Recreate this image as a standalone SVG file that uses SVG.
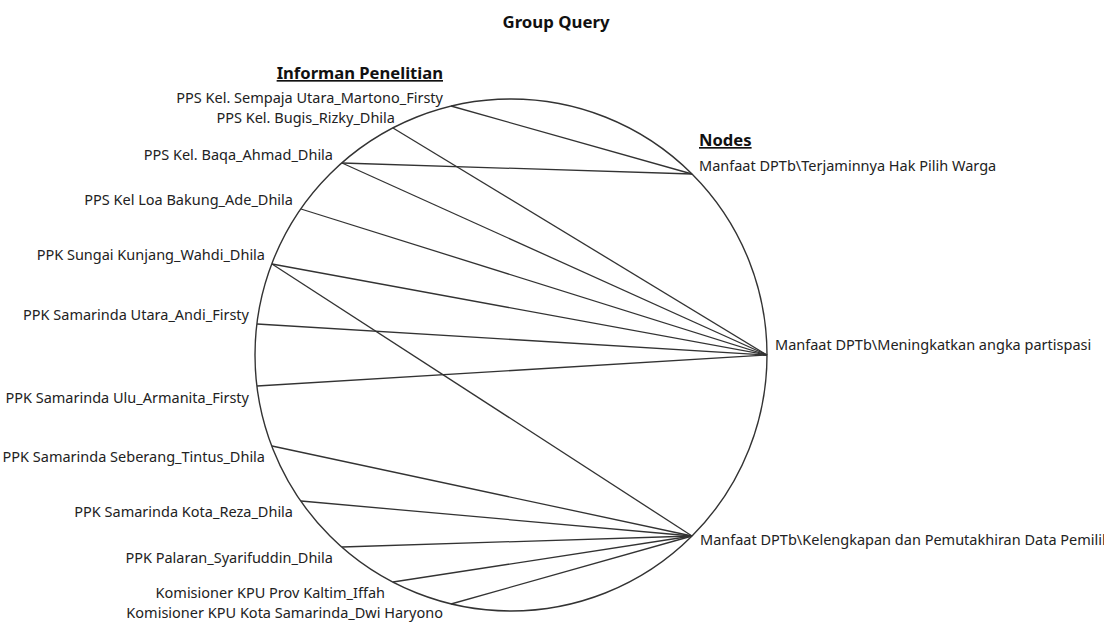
<svg xmlns="http://www.w3.org/2000/svg" width="1104" height="623" viewBox="0 0 1104 623">
<style>
.lbl{font-family:"Noto Sans","Open Sans","Liberation Sans",sans-serif;font-size:14.5px;fill:#222}
.hd{font-family:"Noto Sans","Open Sans","Liberation Sans",sans-serif;font-size:16.6px;font-weight:bold;fill:#111;text-decoration:underline}
.ttl{font-family:"Noto Sans","Open Sans","Liberation Sans",sans-serif;font-size:16.8px;font-weight:bold;fill:#111}
.e{stroke:#333;stroke-width:1.3;fill:none}
.ring{stroke:#333;stroke-width:1.4;fill:none}
</style>
<rect width="1104" height="623" fill="#fff"/>
<text class="ttl" x="556" y="28" text-anchor="middle">Group Query</text>
<text class="hd" x="443" y="79" text-anchor="end">Informan Penelitian</text>
<text class="hd" x="699" y="146">Nodes</text>
<circle class="ring" cx="511" cy="355" r="256"/>
<g id="connectors">
<line class="e" x1="451" y1="106" x2="692" y2="174"/>
<line class="e" x1="393" y1="128" x2="767" y2="355"/>
<line class="e" x1="342" y1="163" x2="692" y2="174"/>
<line class="e" x1="342" y1="163" x2="767" y2="355"/>
<line class="e" x1="301" y1="209" x2="767" y2="355"/>
<line class="e" x1="272" y1="264" x2="767" y2="355"/>
<line class="e" x1="272" y1="264" x2="692" y2="536"/>
<line class="e" x1="257" y1="324" x2="767" y2="355"/>
<line class="e" x1="257" y1="386" x2="767" y2="355"/>
<line class="e" x1="272" y1="446" x2="692" y2="536"/>
<line class="e" x1="301" y1="501" x2="692" y2="536"/>
<line class="e" x1="342" y1="547" x2="692" y2="536"/>
<line class="e" x1="393" y1="582" x2="692" y2="536"/>
<line class="e" x1="451" y1="604" x2="692" y2="536"/>
</g>
<g id="n1"><text class="lbl" x="443" y="103" text-anchor="end">PPS Kel. Sempaja Utara_Martono_Firsty</text></g>
<g id="n2"><text class="lbl" x="395" y="123" text-anchor="end">PPS Kel. Bugis_Rizky_Dhila</text></g>
<g id="n3"><text class="lbl" x="333" y="160" text-anchor="end">PPS Kel. Baqa_Ahmad_Dhila</text></g>
<g id="n4"><text class="lbl" x="293" y="205" text-anchor="end">PPS Kel Loa Bakung_Ade_Dhila</text></g>
<g id="n5"><text class="lbl" x="265" y="260" text-anchor="end">PPK Sungai Kunjang_Wahdi_Dhila</text></g>
<g id="n6"><text class="lbl" x="249" y="320" text-anchor="end">PPK Samarinda Utara_Andi_Firsty</text></g>
<g id="n7"><text class="lbl" x="249" y="403" text-anchor="end">PPK Samarinda Ulu_Armanita_Firsty</text></g>
<g id="n8"><text class="lbl" x="265" y="462" text-anchor="end">PPK Samarinda Seberang_Tintus_Dhila</text></g>
<g id="n9"><text class="lbl" x="293" y="517" text-anchor="end">PPK Samarinda Kota_Reza_Dhila</text></g>
<g id="n10"><text class="lbl" x="333" y="563" text-anchor="end">PPK Palaran_Syarifuddin_Dhila</text></g>
<g id="n11"><text class="lbl" x="385" y="598" text-anchor="end">Komisioner KPU Prov Kaltim_Iffah</text></g>
<g id="n12"><text class="lbl" x="443" y="618" text-anchor="end">Komisioner KPU Kota Samarinda_Dwi Haryono</text></g>
<g id="h1"><text class="lbl" x="699" y="171">Manfaat DPTb\Terjaminnya Hak Pilih Warga</text></g>
<g id="h2"><text class="lbl" x="775" y="350">Manfaat DPTb\Meningkatkan angka partispasi</text></g>
<g id="h3"><text class="lbl" x="700" y="545">Manfaat DPTb\Kelengkapan dan Pemutakhiran Data Pemilih</text></g>
</svg>
